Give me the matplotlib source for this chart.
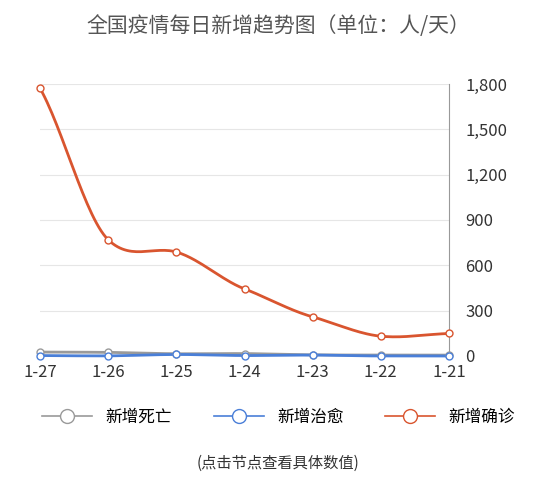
import numpy as np
import matplotlib.pyplot as plt
from matplotlib.lines import Line2D

plt.rcParams['font.family'] = ['Noto Sans CJK SC', 'DejaVu Sans']

DATES = ["1-21", "1-22", "1-23", "1-24", "1-25", "1-26", "1-27"]
CONFIRMED = [149, 131, 259, 444, 688, 769, 1771]
RECOVERED = [0, 0, 6, 3, 10, 1, 3]
DEATHS = [6, 6, 8, 16, 15, 24, 26]

RED = "#d9552f"
BLUE = "#4a7fd8"
GREY = "#9a9a9a"


def smooth(x, y, n=30):
    # cubic hermite with catmull-rom tangents, for drawing only
    x = np.asarray(x, float)
    y = np.asarray(y, float)
    m = np.gradient(y, x) * 0.8
    xs, ys = [], []
    for i in range(len(x) - 1):
        t = np.linspace(0, 1, n)
        h = x[i + 1] - x[i]
        h00 = 2 * t**3 - 3 * t**2 + 1
        h10 = t**3 - 2 * t**2 + t
        h01 = -2 * t**3 + 3 * t**2
        h11 = t**3 - t**2
        xs.append(x[i] + t * h)
        ys.append(h00 * y[i] + h10 * h * m[i] + h01 * y[i + 1] + h11 * h * m[i + 1])
    return np.concatenate(xs), np.concatenate(ys)


fig = plt.figure(figsize=(5.57, 5.0), dpi=100)
ax = fig.add_axes([0.072, 0.288, 0.734, 0.544])
x = np.arange(len(DATES))

for vals, col in [(DEATHS, GREY), (RECOVERED, BLUE), (CONFIRMED, RED)]:
    sx, sy = smooth(x, vals)
    ax.plot(sx, sy, color=col, lw=2, zorder=3, clip_on=False)
    ax.plot(x, vals, "o", ms=5, mfc="white", mec=col, mew=1, zorder=4, clip_on=False)

ax.set_xlim(len(DATES) - 1, 0)
ax.set_ylim(0, 1800)
ax.set_yticks([0, 300, 600, 900, 1200, 1500, 1800])
ax.set_yticklabels(["0", "300", "600", "900", "1,200", "1,500", "1,800"])
ax.set_xticks(x)
ax.set_xticklabels(DATES)
ax.yaxis.tick_right()
ax.tick_params(axis="both", length=0, labelsize=12, colors="#333333")
ax.tick_params(axis="y", pad=12)
ax.tick_params(axis="x", pad=6)
ax.grid(axis="y", color="#e6e6e6", lw=0.8)
for s in ["top", "left", "bottom"]:
    ax.spines[s].set_visible(False)
ax.spines["right"].set_color("#999999")

fig.text(0.5, 0.935, "全国疫情每日新增趋势图（单位：人/天）", ha="center",
         fontsize=15, color="#555555")

handles = [
    Line2D([], [], color=RED, marker="o", mfc="white", ms=10, lw=1.2, label="新增确诊"),
    Line2D([], [], color=BLUE, marker="o", mfc="white", ms=10, lw=1.2, label="新增治愈"),
    Line2D([], [], color=GREY, marker="o", mfc="white", ms=10, lw=1.2, label="新增死亡"),
]
fig.legend(handles=handles[::-1], loc="center", bbox_to_anchor=(0.5, 0.165), ncol=3,
           frameon=False, fontsize=12, handlelength=3, columnspacing=2.5)

fig.text(0.5, 0.065, "(点击节点查看具体数值)", ha="center", fontsize=11, color="#333333")

fig.savefig("out.png", dpi=100)
